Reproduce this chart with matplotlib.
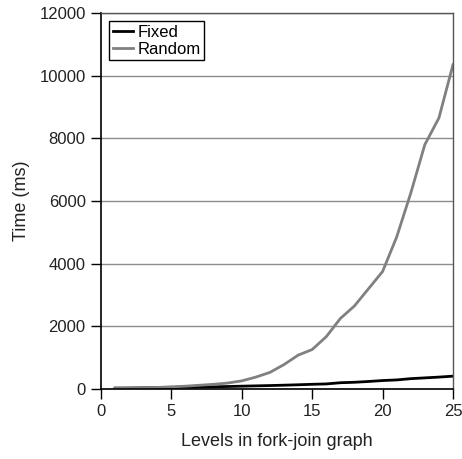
import matplotlib
matplotlib.use('Agg')
import matplotlib.pyplot as plt

plt.rcParams['font.family'] = ['Liberation Sans', 'DejaVu Sans']

levels = list(range(1, 26))
fixed = [30, 32, 36, 42, 50, 56, 62, 70, 80, 90, 100, 110, 122, 135, 150, 162, 200, 215, 240, 270, 290, 330, 355, 380, 410]
random_ = [20, 25, 35, 50, 70, 90, 120, 150, 190, 260, 380, 530, 780, 1080, 1260, 1670, 2250, 2650, 3200, 3750, 4850, 6250, 7800, 8650, 10350]

fig = plt.figure(figsize=(4.62, 4.59), dpi=100)
ax = fig.add_axes([0.2186, 0.1525, 0.7619, 0.8192])

ax.plot(levels, fixed, color='black', lw=2, label='Fixed')
ax.plot(levels, random_, color='#808080', lw=2, label='Random')

ax.set_xlim(0, 25)
ax.set_ylim(0, 12000)
ax.set_xticks(range(0, 26, 5))
ax.set_yticks(range(0, 12001, 2000))
ax.yaxis.grid(True, color='#8c8c8c', lw=1)
ax.set_axisbelow(True)
ax.tick_params(direction='out', length=7, width=1, pad=4, labelsize=12, colors='black', labelcolor='#222222')
for s in ['left', 'bottom']:
    ax.spines[s].set_color('black')
    ax.spines[s].set_linewidth(1.2)
for s in ['top', 'right']:
    ax.spines[s].set_color('#555555')
    ax.spines[s].set_linewidth(1)

ax.set_xlabel('Levels in fork-join graph', fontsize=13, color='#222222', labelpad=10)
ax.set_ylabel('Time (ms)', fontsize=13, color='#222222', labelpad=7)

leg = ax.legend(loc='upper left', fontsize=12, fancybox=False, framealpha=1,
                edgecolor='black', handlelength=1.2, handletextpad=0.3,
                borderpad=0.2, labelspacing=0.15, borderaxespad=0.5)
leg.get_frame().set_linewidth(1)

plt.savefig('out.png', dpi=100)
